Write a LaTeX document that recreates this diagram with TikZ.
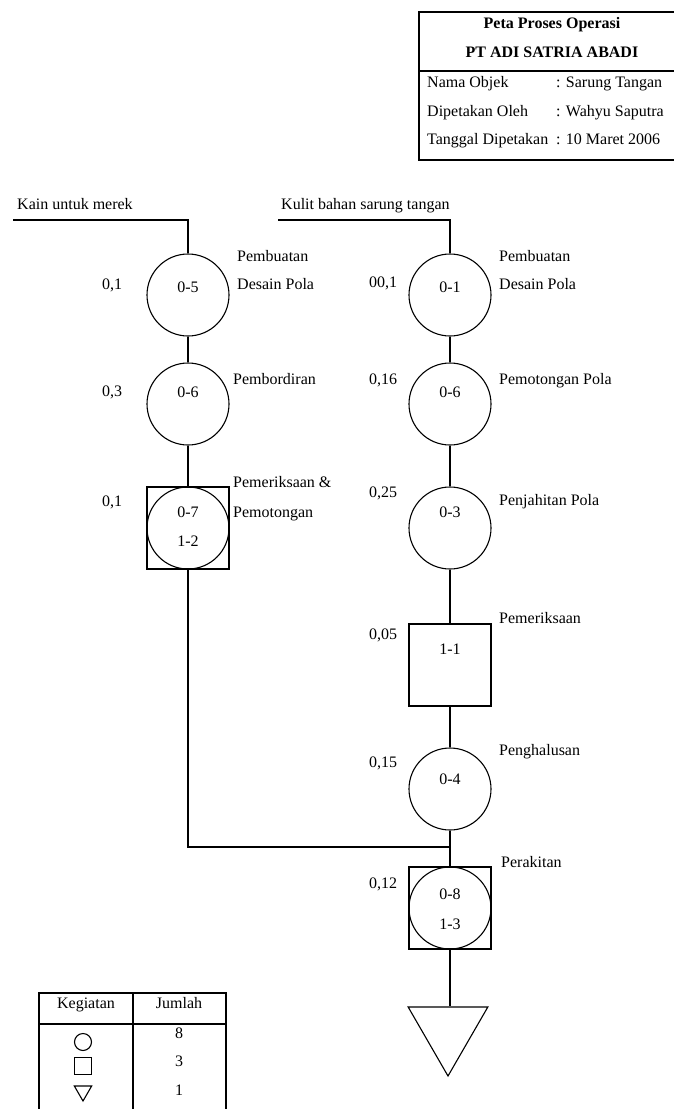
\documentclass[tikz,border=0pt]{standalone}
\usepackage{fontspec}
\setmainfont{Liberation Serif}
\usetikzlibrary{shapes.geometric}
\begin{document}
\begin{tikzpicture}[x=1pt, y=-1pt,
  txt/.style={font=\fontsize{16}{19}\selectfont, inner sep=0pt, text height=11pt, text depth=3pt},
  lefttxt/.style={txt, anchor=west},
  headtxt/.style={txt, font=\bfseries\fontsize{16}{19}\selectfont},
  flow/.style={line width=1.3pt},
  opcircle/.style={draw, circle, line width=1.1pt, minimum size=82pt, inner sep=0pt},
  inspbox/.style={draw, rectangle, line width=1.3pt, minimum size=82pt, inner sep=0pt},
  storetri/.style={draw, regular polygon, regular polygon sides=3, shape border rotate=180,
                   line width=1.1pt, minimum size=92pt, inner sep=0pt},
  frame/.style={line width=1.6pt}]
\useasboundingbox (0,0) rectangle (673,1109);

% ---------- header block ----------
\draw[frame] (419,12) rectangle (686,160);
\draw[frame] (419,71) -- (686,71);
\node[headtxt] (title1) at (552,24) {Peta Proses Operasi};
\node[headtxt] (title2) at (552,53) {PT ADI SATRIA ABADI};
\node[lefttxt] (k1) at (427,83) {Nama Objek};
\node[lefttxt] (v1) at (556,83) {: Sarung Tangan};
\node[lefttxt] (k2) at (427,112) {Dipetakan Oleh};
\node[lefttxt] (v2) at (556,112) {: Wahyu Saputra};
\node[lefttxt] (k3) at (427,140) {Tanggal Dipetakan};
\node[lefttxt] (v3) at (556,140) {: 10 Maret 2006};

% ---------- left branch: fabric for the brand label ----------
\node[lefttxt] (kain) at (17,205) {Kain untuk merek};
\coordinate (kstart) at (13,220);
\coordinate (kcorner) at (188,220);

\node[opcircle] (o5) at (188,295) {};
\node[txt] (c5) at (188,288) {0-5};
\node[txt] (t5) at (112,285) {0,1};
\node[lefttxt] (n5a) at (237,257) {Pembuatan};
\node[lefttxt] (n5b) at (237,285) {Desain Pola};

\node[opcircle] (o6a) at (188,404) {};
\node[txt] (c6a) at (188,393) {0-6};
\node[txt] (t6a) at (112,392) {0,3};
\node[lefttxt] (n6a) at (233,380) {Pembordiran};

\node[inspbox] (b7) at (188,528) {};
\node[opcircle] (o7) at (188,528) {};
\node[txt] (c7a) at (188,513) {0-7};
\node[txt] (c7b) at (188,542) {1-2};
\node[txt] (t7) at (112,502) {0,1};
\node[lefttxt] (n7a) at (233,483) {Pemeriksaan \&};
\node[lefttxt] (n7b) at (233,513) {Pemotongan};

\coordinate (kjoin) at (188,847);

% ---------- right branch: leather for the gloves ----------
\node[lefttxt] (kulit) at (281,205) {Kulit bahan sarung tangan};
\coordinate (ustart) at (278,220);
\coordinate (ucorner) at (450,220);

\node[opcircle] (o1) at (450,295) {};
\node[txt] (c1) at (450,288) {0-1};
\node[txt] (t1) at (383,283) {00,1};
\node[lefttxt] (n1a) at (499,257) {Pembuatan};
\node[lefttxt] (n1b) at (499,285) {Desain Pola};

\node[opcircle] (o6b) at (450,404) {};
\node[txt] (c6b) at (450,393) {0-6};
\node[txt] (t6b) at (383,380) {0,16};
\node[lefttxt] (n6b) at (499,380) {Pemotongan Pola};

\node[opcircle] (o3) at (450,528) {};
\node[txt] (c3) at (450,513) {0-3};
\node[txt] (t3) at (383,493) {0,25};
\node[lefttxt] (n3) at (499,501) {Penjahitan Pola};

\node[inspbox] (b11) at (450,665) {};
\node[txt] (c11) at (450,650) {1-1};
\node[txt] (t11) at (383,635) {0,05};
\node[lefttxt] (n11) at (499,619) {Pemeriksaan};

\node[opcircle] (o4) at (450,789) {};
\node[txt] (c4) at (450,780) {0-4};
\node[txt] (t4) at (383,763) {0,15};
\node[lefttxt] (n4) at (499,751) {Penghalusan};

\coordinate (rjoin) at (450,847);

\node[inspbox] (b8) at (450,908) {};
\node[opcircle] (o8) at (450,908) {};
\node[txt] (c8a) at (450,895) {0-8};
\node[txt] (c8b) at (450,925) {1-3};
\node[txt] (t8) at (383,884) {0,12};
\node[lefttxt] (n8) at (501,863) {Perakitan};

\node[storetri] (tri) at (448,1030) {};

% ---------- connectors ----------
\draw[flow] (kstart) -- (kcorner) -- (o5);
\draw[flow] (o5) -- (o6a);
\draw[flow] (o6a) -- (b7);
\draw[flow] (b7) -- (kjoin) -- (rjoin);

\draw[flow] (ustart) -- (ucorner) -- (o1);
\draw[flow] (o1) -- (o6b);
\draw[flow] (o6b) -- (o3);
\draw[flow] (o3) -- (b11);
\draw[flow] (b11) -- (o4);
\draw[flow] (o4) -- (b8);
\draw[flow] (b8.south) -- (b8.south |- tri.north);

% ---------- summary table ----------
\draw[frame] (39,993) rectangle (226,1116);
\draw[frame] (39,1024) -- (226,1024);
\draw[frame] (133,993) -- (133,1116);
\node[txt] (hk) at (86,1004) {Kegiatan};
\node[txt] (hj) at (179,1004) {Jumlah};
\node[draw, circle, line width=1.1pt, minimum size=17pt, inner sep=0pt] (sc) at (83,1042) {};
\node[draw, rectangle, line width=1.3pt, minimum size=17pt, inner sep=0pt] (sq) at (83,1066) {};
\node[draw, regular polygon, regular polygon sides=3, shape border rotate=180,
      line width=1.1pt, minimum size=20pt, inner sep=0pt] (st) at (83,1091) {};
\node[txt] (n8c) at (179,1034) {8};
\node[txt] (n3c) at (179,1062) {3};
\node[txt] (n1c) at (179,1091) {1};
\end{tikzpicture}
\end{document}
